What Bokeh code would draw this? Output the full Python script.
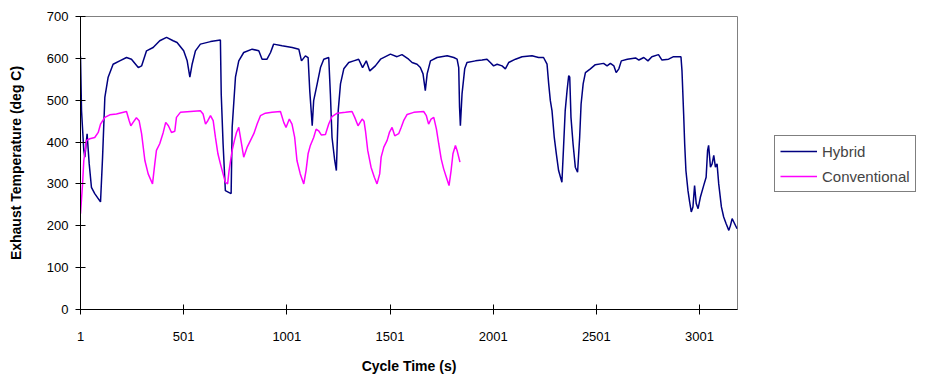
from bokeh.plotting import figure
from bokeh.models import Range1d, FixedTicker, Legend, LegendItem
from bokeh.embed import file_html
from bokeh.resources import INLINE

# ---- data ----
hybrid_t = [1, 6, 17, 22, 33, 43, 54, 70, 98, 108, 119, 135, 159, 191, 224, 248, 281, 297,
            321, 353, 385, 418, 450, 469, 501, 518, 531, 542, 558, 582, 631, 679, 683, 692,
            703, 719, 731, 736, 752, 768, 792, 833, 865, 881, 905, 922, 937, 978, 1027, 1059,
            1072, 1091, 1104, 1112, 1124, 1131, 1148, 1164, 1180, 1204, 1212, 1220, 1233, 1241,
            1250, 1261, 1277, 1301, 1325, 1349, 1368, 1386, 1403, 1430, 1455, 1503, 1535, 1559,
            1591, 1608, 1632, 1648, 1661, 1672, 1681, 1697, 1729, 1778, 1810, 1826, 1834, 1838,
            1842, 1850, 1863, 1874, 1915, 1947, 1971, 1987, 2003, 2020, 2044, 2060, 2076, 2109,
            2141, 2189, 2221, 2245, 2262, 2270, 2278, 2286, 2297, 2307, 2318, 2334, 2342, 2350,
            2359, 2367, 2372, 2378, 2388, 2399, 2410, 2420, 2427, 2437, 2448, 2472, 2496, 2536,
            2553, 2569, 2586, 2597, 2610, 2622, 2651, 2691, 2707, 2731, 2751, 2770, 2802, 2819,
            2851, 2875, 2911, 2916, 2924, 2929, 2935, 2945, 2953, 2961, 2969, 2977, 2985, 2994,
            3005, 3021, 3033, 3040, 3045, 3054, 3062, 3070, 3078, 3086, 3094, 3107, 3118, 3130,
            3143, 3151, 3159, 3167, 3183]
hybrid_temp = [605, 475, 380, 364, 420, 349, 292, 277, 257, 364, 507, 555, 586, 594, 602, 598, 578, 582,
               618, 626, 642, 650, 642, 638, 618, 594, 555, 586, 618, 634, 640, 644, 515, 396,
               284, 280, 277, 435, 555, 594, 614, 622, 618, 598, 598, 614, 634, 630, 626, 622,
               594, 606, 602, 523, 439, 499, 539, 578, 598, 602, 515, 411, 356, 332,
               475, 539, 575, 590, 594, 598, 578, 594, 570, 582, 598, 610, 604, 609,
               598, 590, 586, 578, 563, 523, 563, 594, 602, 606, 602, 598, 578, 483,
               439, 515, 575, 590, 594, 596, 598, 590, 582, 586, 582, 575, 590, 598,
               604, 606, 602, 602, 586, 539, 499, 475, 411, 372, 332, 304, 388, 475,
               523, 559, 555, 459, 396, 340, 328, 411, 491, 539, 566, 575, 585, 588,
               582, 588, 582, 566, 575, 594, 598, 601, 596, 602, 594, 604, 609, 596,
               598, 604, 604, 570, 467, 396, 332, 284, 257, 233, 245, 296, 253, 241,
               268, 296, 316, 380, 392, 340, 348, 368, 340, 348, 300, 245, 221, 205,
               189, 201, 217, 209, 193]

conv_t = [1, 11, 17, 30, 46, 70, 87, 98, 119, 143, 175, 224, 237, 245, 256, 272, 285, 297,
          313, 329, 350, 361, 369, 385, 402, 414, 427, 442, 458, 466, 485, 534, 582, 595,
          607, 618, 631, 644, 655, 667, 679, 692, 703, 714, 721, 736, 747, 757, 768, 780,
          792, 809, 825, 841, 857, 873, 897, 929, 970, 986, 997, 1013, 1026, 1039, 1050,
          1066, 1083, 1094, 1104, 1115, 1131, 1143, 1155, 1168, 1188, 1204, 1220, 1245,
          1285, 1317, 1330, 1346, 1366, 1375, 1382, 1393, 1409, 1425, 1438, 1451, 1458,
          1471, 1487, 1498, 1511, 1524, 1543, 1555, 1567, 1584, 1616, 1664, 1677, 1688,
          1700, 1713, 1726, 1737, 1749, 1761, 1774, 1787, 1797, 1806, 1818, 1826, 1834, 1840]
conv_temp = [229, 300, 356, 404, 408, 411, 423, 443, 459, 465, 467, 473, 451, 439, 447, 458, 451, 420,
             356, 324, 300, 348, 380, 396, 423, 447, 439, 423, 426, 459, 471, 473, 475, 467,
             443, 451, 463, 451, 411, 372, 348, 324, 304, 300, 332, 380, 404, 423, 435, 400,
             364, 388, 404, 420, 443, 463, 469, 471, 473, 447, 435, 455, 443, 411, 356,
             324, 300, 332, 372, 392, 411, 431, 427, 417, 418, 443, 461, 469,
             471, 473, 459, 439, 455, 450, 427, 380, 340, 316, 300, 324, 364,
             388, 404, 423, 435, 415, 420, 435, 451, 466, 471, 473, 463, 443,
             455, 459, 431, 396, 360, 336, 316, 296, 332, 372, 392, 380, 364, 352]

x_ticks = [1, 501, 1001, 1501, 2001, 2501, 3001]
y_ticks = [0, 100, 200, 300, 400, 500, 600, 700]
series_names = ["Hybrid", "Conventional"]

FONT = "Liberation Sans"

p = figure(frame_width=657, frame_height=293,
           min_border_left=80, min_border_right=166, min_border_top=16, min_border_bottom=54,
           x_range=Range1d(1, 3185), y_range=Range1d(0, 700),
           output_backend="svg", toolbar_location=None, background_fill_color="white")

p.outline_line_color = "#808080"
p.outline_line_width = 1
p.xgrid.visible = False
p.ygrid.visible = False

r1 = p.line(hybrid_t, hybrid_temp, line_color="#000080", line_width=1.5)
r2 = p.line(conv_t, conv_temp, line_color="#FF00FF", line_width=1.5)

for ax in (p.xaxis[0], p.yaxis[0]):
    ax.axis_line_color = "black"
    ax.major_tick_line_color = "black"
    ax.minor_tick_line_color = None
    ax.major_label_text_font = FONT
    ax.major_label_text_font_size = "13px"
    ax.major_label_text_color = "black"
    ax.axis_label_text_font = FONT
    ax.axis_label_text_font_size = "14px"
    ax.axis_label_text_font_style = "bold"
    ax.axis_label_text_color = "black"
    ax.major_tick_in = 5
    ax.major_tick_out = 5

p.xaxis.ticker = FixedTicker(ticks=x_ticks)
p.yaxis.ticker = FixedTicker(ticks=y_ticks)
p.xaxis.axis_label = "Cycle Time (s)"
p.yaxis.axis_label = "Exhaust Temperature (deg C)"
p.xaxis.major_label_standoff = 17
p.xaxis.axis_label_standoff = 14
p.yaxis.major_label_standoff = 7
p.yaxis.axis_label_standoff = 20

legend = Legend(items=[LegendItem(label=series_names[0], renderers=[r1]),
                       LegendItem(label=series_names[1], renderers=[r2])],
                location=(37, 117))
legend.border_line_color = "black"
legend.border_line_width = 1
legend.background_fill_color = "white"
legend.label_text_font = FONT
legend.label_text_font_size = "15px"
legend.glyph_width = 37
legend.glyph_height = 20
legend.label_height = 20
legend.label_standoff = 5
legend.spacing = 5
legend.padding = 5
legend.margin = 0
p.add_layout(legend, "right")

open("out.html", "w").write(file_html(p, INLINE))
